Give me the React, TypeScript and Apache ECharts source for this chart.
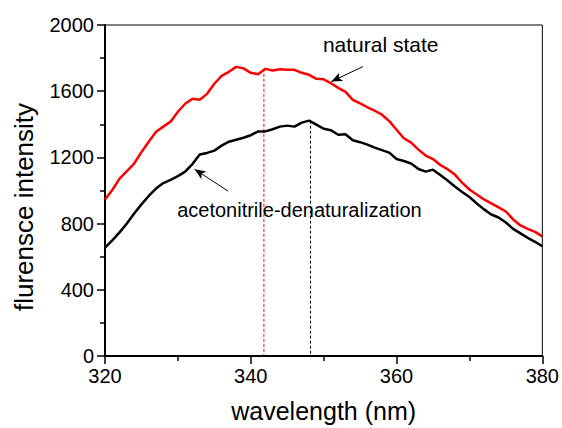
import React, { useEffect, useRef } from "react";
import * as echarts from "echarts";

const wavelengths: number[] = [
  320, 321, 322, 323, 324, 325, 326, 327, 328, 329, 330, 331, 332, 333, 334, 335, 336, 337, 338, 339, 340,
  341, 342, 343, 344, 345, 346, 347, 348, 349, 350, 351, 352, 353, 354, 355, 356, 357, 358, 359, 360,
  361, 362, 363, 364, 365, 366, 367, 368, 369, 370, 371, 372, 373, 374, 375, 376, 377, 378, 379, 380,
];

const naturalState: number[] = [
  946, 1003, 1072, 1117, 1163, 1232, 1295, 1355, 1386, 1416, 1476, 1524, 1554, 1548, 1584, 1645, 1693, 1717, 1747, 1738, 1711,
  1703, 1735, 1725, 1732, 1729, 1729, 1711, 1699, 1675, 1672, 1648, 1620, 1596, 1548, 1527, 1503, 1482, 1458, 1419, 1367,
  1316, 1289, 1247, 1211, 1190, 1154, 1129, 1096, 1048, 1006, 976, 946, 922, 898, 873, 825, 789, 768, 750, 723,
];

const denatured: number[] = [
  655, 699, 747, 801, 861, 916, 967, 1012, 1045, 1064, 1087, 1114, 1160, 1217, 1227, 1241, 1271, 1295, 1307, 1319, 1334,
  1357, 1357, 1370, 1386, 1392, 1386, 1410, 1422, 1398, 1373, 1364, 1337, 1340, 1304, 1292, 1277, 1259, 1244, 1229, 1190,
  1178, 1163, 1130, 1114, 1126, 1093, 1060, 1024, 991, 961, 922, 886, 855, 837, 807, 768, 741, 714, 690, 663,
];

// peak markers (wavelength, top value)
const redPeak: [number, number] = [341.8, 1735];
const blackPeak: [number, number] = [348.2, 1422];

// annotation arrows: [tail, head]
const naturalArrow: [number, number][] = [[355.4, 1749], [351.05, 1658]];
const denatArrow: [number, number][] = [[336.9, 996], [332.3, 1128]];

// annotation labels: [wavelength, value, text]
const naturalLabel: [number, number, string] = [349.9, 1885, "natural state"];
const denatLabel: [number, number, string] = [329.9, 885, "acetonitrile-denaturalization"];

const xTicks = { min: 320, max: 380, interval: 20 };
const yTicks = { min: 0, max: 2000, interval: 400 };

const FONT = "'Liberation Sans', Arial, Helvetica, sans-serif";

export default function App() {
  const ref = useRef<HTMLDivElement>(null);
  useEffect(() => {
    document.body.style.margin = "0";
    const chart = echarts.init(ref.current!, null, { renderer: "svg" });
    const axisCommon = {
      axisLine: { show: true, lineStyle: { color: "#000", width: 2 } },
      axisTick: { show: true, inside: false, length: 8, lineStyle: { color: "#000", width: 1.5 } },
      minorTick: { show: true, splitNumber: 2, length: 5, lineStyle: { color: "#000", width: 1.5 } },
      splitLine: { show: false },
      axisLabel: {
        color: "#000",
        fontSize: 20,
        fontFamily: FONT,
        formatter: (v: number) => String(v),
      },
    };
    const labelPoint = (l: [number, number, string], size: number) => ({
      coord: [l[0], l[1]],
      symbol: "circle",
      symbolSize: 0,
      label: {
        show: true,
        formatter: l[2],
        position: "right",
        distance: 0,
        color: "#000",
        fontSize: size,
        fontFamily: FONT,
      },
    });
    const arrowLine = (a: [number, number][]) => [
      { coord: a[0], symbol: "none" },
      { coord: a[1], symbol: "arrow" },
    ];
    chart.setOption({
      animation: false,
      backgroundColor: "#fff",
      grid: { left: 105, right: 19, top: 25, bottom: 71, show: true, borderColor: "#000", borderWidth: 1 },
      xAxis: {
        type: "value",
        min: xTicks.min,
        max: xTicks.max,
        interval: xTicks.interval,
        name: "wavelength (nm)",
        nameLocation: "middle",
        nameGap: 42,
        nameTextStyle: { color: "#000", fontSize: 25, fontFamily: FONT },
        ...axisCommon,
        axisLabel: { ...axisCommon.axisLabel, margin: 10 },
      },
      yAxis: {
        type: "value",
        min: yTicks.min,
        max: yTicks.max,
        interval: yTicks.interval,
        ...axisCommon,
        axisLabel: { ...axisCommon.axisLabel, margin: 11 },
      },
      graphic: [
        {
          type: "text",
          x: 24,
          y: 207,
          rotation: Math.PI / 2,
          style: {
            text: "flurensce intensity",
            fontSize: 26,
            fontFamily: FONT,
            fill: "#000",
            textAlign: "center",
            textVerticalAlign: "middle",
          },
        },
      ],
      series: [
        {
          type: "line",
          name: "natural state",
          data: wavelengths.map((w, i) => [w, naturalState[i]]),
          showSymbol: false,
          symbol: "none",
          lineStyle: { color: "#ff0000", width: 2.5 },
          z: 3,
          markPoint: { silent: true, data: [labelPoint(naturalLabel, 21)] },
          markLine: {
            silent: true,
            symbolSize: [7, 11],
            lineStyle: { color: "#000", width: 1, type: "solid" },
            label: { show: false },
            data: [arrowLine(naturalArrow)],
          },
        },
        {
          type: "line",
          name: "acetonitrile-denaturalization",
          data: wavelengths.map((w, i) => [w, denatured[i]]),
          showSymbol: false,
          symbol: "none",
          lineStyle: { color: "#000", width: 2.5 },
          z: 3,
          markPoint: { silent: true, data: [labelPoint(denatLabel, 20)] },
          markLine: {
            silent: true,
            symbolSize: [7, 11],
            lineStyle: { color: "#000", width: 1, type: "solid" },
            label: { show: false },
            data: [arrowLine(denatArrow)],
          },
        },
        {
          type: "line",
          name: "red peak",
          data: [[redPeak[0], redPeak[1]], [redPeak[0], 0]],
          showSymbol: false,
          symbol: "none",
          lineStyle: { color: "#ff0000", width: 1, type: [3, 2] },
          z: 2,
        },
        {
          type: "line",
          name: "black peak",
          data: [[blackPeak[0], blackPeak[1]], [blackPeak[0], 0]],
          showSymbol: false,
          symbol: "none",
          lineStyle: { color: "#000", width: 1, type: [3, 2] },
          z: 2,
        },
      ],
    });
    return () => chart.dispose();
  }, []);
  return <div ref={ref} style={{ width: 562, height: 428 }} />;
}
